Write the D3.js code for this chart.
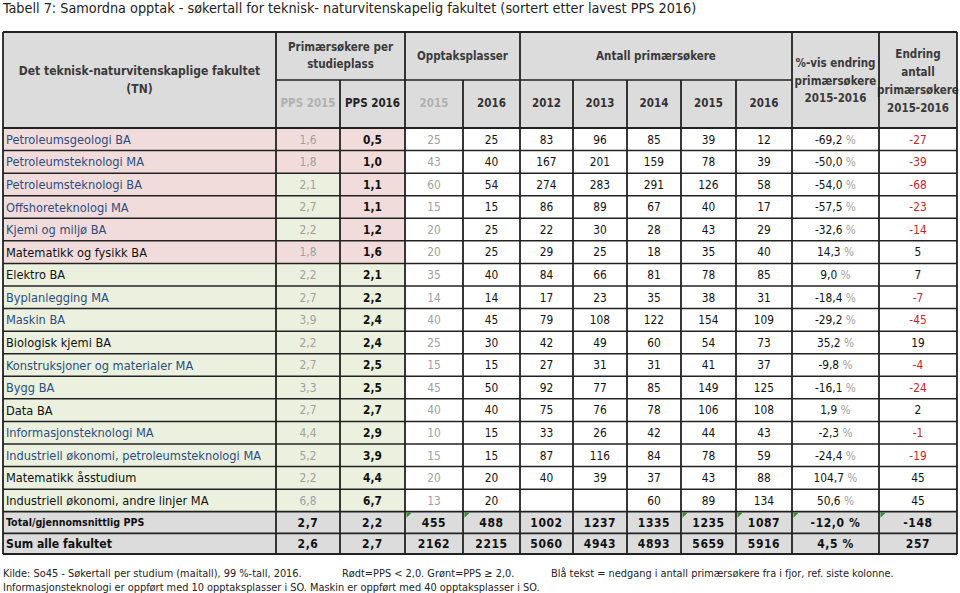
<!DOCTYPE html>
<html><head><meta charset="utf-8">
<script src="https://cdn.jsdelivr.net/npm/d3@7"></script>
<style>
body{margin:0;background:#fff;}
svg{display:block;font-family:"DejaVu Sans Condensed","DejaVu Sans",sans-serif;}
</style></head>
<body><svg id="c" width="960" height="593"></svg>
<script>
const title = "Tabell 7: Samordna opptak - søkertall for teknisk- naturvitenskapelig fakultet (sortert etter lavest PPS 2016)";
const programs = ["Petroleumsgeologi BA","Petroleumsteknologi MA","Petroleumsteknologi BA","Offshoreteknologi MA","Kjemi og miljø BA","Matematikk og fysikk BA","Elektro BA","Byplanlegging MA","Maskin BA","Biologisk kjemi BA","Konstruksjoner og materialer MA","Bygg BA","Data BA","Informasjonsteknologi MA","Industriell økonomi, petroleumsteknologi MA","Matematikk åsstudium","Industriell økonomi, andre linjer MA"];
const pps2015 = [1.6,1.8,2.1,2.7,2.2,1.8,2.2,2.7,3.9,2.2,2.7,3.3,2.7,4.4,5.2,2.2,6.8];
const pps2016 = [0.5,1.0,1.1,1.1,1.2,1.6,2.1,2.2,2.4,2.4,2.5,2.5,2.7,2.9,3.9,4.4,6.7];
const plasser2015 = [25,43,60,15,20,20,35,14,40,25,15,45,40,10,15,20,13];
const plasser2016 = [25,40,54,15,25,25,40,14,45,30,15,50,40,15,15,20,20];
const sokere2012 = [83,167,274,86,22,29,84,17,79,42,27,92,75,33,87,40,null];
const sokere2013 = [96,201,283,89,30,25,66,23,108,49,31,77,76,26,116,39,null];
const sokere2014 = [85,159,291,67,28,18,81,35,122,60,31,85,78,42,84,37,60];
const sokere2015 = [39,78,126,40,43,35,78,38,154,54,41,149,106,44,78,43,89];
const sokere2016 = [12,39,58,17,29,40,85,31,109,73,37,125,108,43,59,88,134];
const pctEndring = [-69.2,-50.0,-54.0,-57.5,-32.6,14.3,9.0,-18.4,-29.2,35.2,-9.8,-16.1,1.9,-2.3,-24.4,104.7,50.6];
const endring = [-27,-39,-68,-23,-14,5,7,-7,-45,19,-4,-24,2,-1,-19,45,45];
const totalLabels = ["Total/gjennomsnittlig PPS","Sum alle fakultet"];
const totalPps2015 = [2.7,2.6];
const totalPps2016 = [2.2,2.7];
const totalPlasser2015 = [455,2162];
const totalPlasser2016 = [488,2215];
const total2012 = [1002,5060];
const total2013 = [1237,4943];
const total2014 = [1335,4893];
const total2015 = [1235,5659];
const total2016 = [1087,5916];
const totalPct = [-12.0,4.5];
const totalEndring = [-148,257];
const yearLabels = ["2012","2013","2014","2015","2016"];
const footer1a = "Kilde: So45 - Søkertall per studium (maitall), 99 %-tall, 2016.";
const footer1b = "Rødt=PPS < 2,0. Grønt=PPS ≥ 2,0.";
const footer1c = "Blå tekst = nedgang i antall primærsøkere fra i fjor, ref. siste kolonne.";
const footer2 = "Informasjonsteknologi er oppført med 10 opptaksplasser i SO.  Maskin er oppført med 40 opptaksplasser i SO.";

const svg = d3.select("#c");
const fmt1 = v => v==null ? "" : d3.format(".1f")(v).replace(".",",").replace("\u2212","-");
const colEdges = [3,276,340,405,463,520,573,627,681,736,792,879,957];
const PINK="#f2dcdb", GREEN="#ebf1de", GRAYBG="#dcdcdc", BLUE="#2c4d80", RED="#c0272d";

const nRows = programs.length;
const y = d3.scaleLinear().domain([0, nRows]).range([128, 511.7]);
const yT = d3.scaleLinear().domain([0,1,2]).range([511.7,533.3,554]);

svg.append("text").attr("x",3).attr("y",12.5).attr("font-size",14.3).attr("fill","#222").text(title);

svg.append("rect").attr("x",colEdges[0]).attr("y",32).attr("width",colEdges[12]-colEdges[0]).attr("height",96).attr("fill",GRAYBG);

const cx = i => (colEdges[i]+colEdges[i+1])/2;

const rows = d3.range(nRows);
const g = svg.append("g");
rows.forEach(i=>{
  const y0=y(i), y1=y(i+1), ym=(y0+y1)/2;
  const nameBg = pps2016[i]<2 ? PINK : GREEN;
  g.append("rect").attr("x",colEdges[0]).attr("y",y0).attr("width",colEdges[1]-colEdges[0]).attr("height",y1-y0).attr("fill",nameBg);
  g.append("rect").attr("x",colEdges[1]).attr("y",y0).attr("width",colEdges[2]-colEdges[1]).attr("height",y1-y0).attr("fill",pps2015[i]<2?PINK:GREEN);
  g.append("rect").attr("x",colEdges[2]).attr("y",y0).attr("width",colEdges[3]-colEdges[2]).attr("height",y1-y0).attr("fill",pps2016[i]<2?PINK:GREEN);
  g.append("text").attr("x",6).attr("y",ym).attr("dy","0.36em").attr("font-size",12.7)
    .attr("fill", endring[i]<0?BLUE:"#111").text(programs[i]);
  g.append("text").attr("x",cx(1)).attr("y",ym).attr("dy","0.36em").attr("text-anchor","middle").attr("font-size",11.8).attr("fill","#a0a0a0").text(fmt1(pps2015[i]));
  g.append("text").attr("x",cx(2)).attr("y",ym).attr("dy","0.36em").attr("text-anchor","middle").attr("font-size",11.8).attr("font-weight","bold").attr("fill","#111").text(fmt1(pps2016[i]));
  g.append("text").attr("x",cx(3)).attr("y",ym).attr("dy","0.36em").attr("text-anchor","middle").attr("font-size",11.8).attr("fill","#a0a0a0").text(plasser2015[i]);
  [plasser2016,sokere2012,sokere2013,sokere2014,sokere2015,sokere2016].forEach((arr,k)=>{
    g.append("text").attr("x",cx(4+k)).attr("y",ym).attr("dy","0.36em").attr("text-anchor","middle").attr("font-size",11.8).attr("fill","#111").text(arr[i]==null?"":arr[i]);
  });
  const t = g.append("text").attr("x",cx(10)).attr("y",ym).attr("dy","0.36em").attr("text-anchor","middle").attr("font-size",11.8).attr("fill","#111");
  t.append("tspan").text(fmt1(pctEndring[i])+" ");
  t.append("tspan").attr("fill","#a0a0a0").text("%");
  g.append("text").attr("x",cx(11)).attr("y",ym).attr("dy","0.36em").attr("text-anchor","middle").attr("font-size",11.8).attr("fill",endring[i]<0?RED:"#111").text(endring[i]);
});

[0,1].forEach(j=>{
  const y0=yT(j), y1=yT(j+1), ym=(y0+y1)/2;
  g.append("rect").attr("x",colEdges[0]).attr("y",y0).attr("width",colEdges[12]-colEdges[0]).attr("height",y1-y0).attr("fill",GRAYBG);
  g.append("text").attr("x",6).attr("y",ym).attr("dy","0.36em").attr("font-size",j==0?10.6:12.2).attr("font-weight","bold").attr("fill","#111").text(totalLabels[j]);
  const vals=[fmt1(totalPps2015[j]),fmt1(totalPps2016[j]),totalPlasser2015[j],totalPlasser2016[j],total2012[j],total2013[j],total2014[j],total2015[j],total2016[j],fmt1(totalPct[j])+" %",totalEndring[j]];
  vals.forEach((v,k)=>{
    g.append("text").attr("x",cx(1+k)).attr("y",ym).attr("dy","0.36em").attr("text-anchor","middle").attr("font-size",12).attr("font-weight","bold").attr("letter-spacing","0.6").attr("fill","#111").text(v);
  });
});
[3,4,8,9,10,11].forEach(k=>{
  const x0=colEdges[k]+1.5, y0=yT(0)+1;
  svg.append("path").attr("d",`M${x0},${y0}L${x0+5},${y0}L${x0},${y0+5}Z`).attr("fill","#2e8b2e");
});

const H = svg.append("g").attr("font-size",11.5).attr("font-weight","bold").attr("fill","#3a3a3a").attr("text-anchor","middle");
const htext=(x,yy,s,fill)=>H.append("text").attr("x",x).attr("y",yy).attr("dy","0.36em").attr("fill",fill||"#3a3a3a").text(s);
htext((colEdges[0]+colEdges[1])/2,71,"Det teknisk-naturvitenskaplige fakultet").attr("font-size",12);
htext((colEdges[0]+colEdges[1])/2,89,"(TN)").attr("font-size",12);
htext((colEdges[1]+colEdges[3])/2,47,"Primærsøkere per");
htext((colEdges[1]+colEdges[3])/2,64,"studieplass");
htext((colEdges[3]+colEdges[5])/2,56,"Opptaksplasser");
htext((colEdges[5]+colEdges[10])/2,56,"Antall primærsøkere");
htext(cx(1),103,"PPS 2015","#b0b0b0");
htext(cx(2),103,"PPS 2016","#222");
htext(cx(3),103,"2015","#b0b0b0");
htext(cx(4),103,"2016","#333");
yearLabels.forEach((s,k)=>htext(cx(5+k),103,s,"#333"));
["%-vis endring","primærsøkere","2015-2016"].forEach((s,k)=>htext(cx(10),63+k*17.5,s));
["Endring","antall","primærsøkere","2015-2016"].forEach((s,k)=>htext(cx(11),54+k*17.8,s));

const L = svg.append("g").attr("stroke","#222").attr("fill","none");
const hline=(x0,x1,yy,w)=>L.append("line").attr("x1",x0).attr("x2",x1).attr("y1",yy).attr("y2",yy).attr("stroke-width",w||1.6);
const vline=(xx,y0,y1,w)=>L.append("line").attr("x1",xx).attr("x2",xx).attr("y1",y0).attr("y2",y1).attr("stroke-width",w||1.8);
hline(colEdges[0],colEdges[12],32,1.8);
hline(colEdges[1],colEdges[10],80,1.6);
hline(colEdges[0],colEdges[12],128,1.8);
rows.slice(1).forEach(i=>hline(colEdges[0],colEdges[12],y(i),1.5));
hline(colEdges[0],colEdges[12],yT(0),1.8);
hline(colEdges[0],colEdges[12],yT(1),1.8);
hline(colEdges[0],colEdges[12],yT(2),1.8);
colEdges.forEach((xx,k)=>{
  if([2,4,6,7,8,9].includes(k)) vline(xx,80,yT(2));
  else vline(xx,32,yT(2));
});

const F = svg.append("g").attr("font-size",10.9).attr("fill","#222");
F.append("text").attr("x",3).attr("y",577).text(footer1a);
F.append("text").attr("x",342).attr("y",577).text(footer1b);
F.append("text").attr("x",551).attr("y",577).text(footer1c);
F.append("text").attr("x",3).attr("y",591).text(footer2);
</script></body></html>
